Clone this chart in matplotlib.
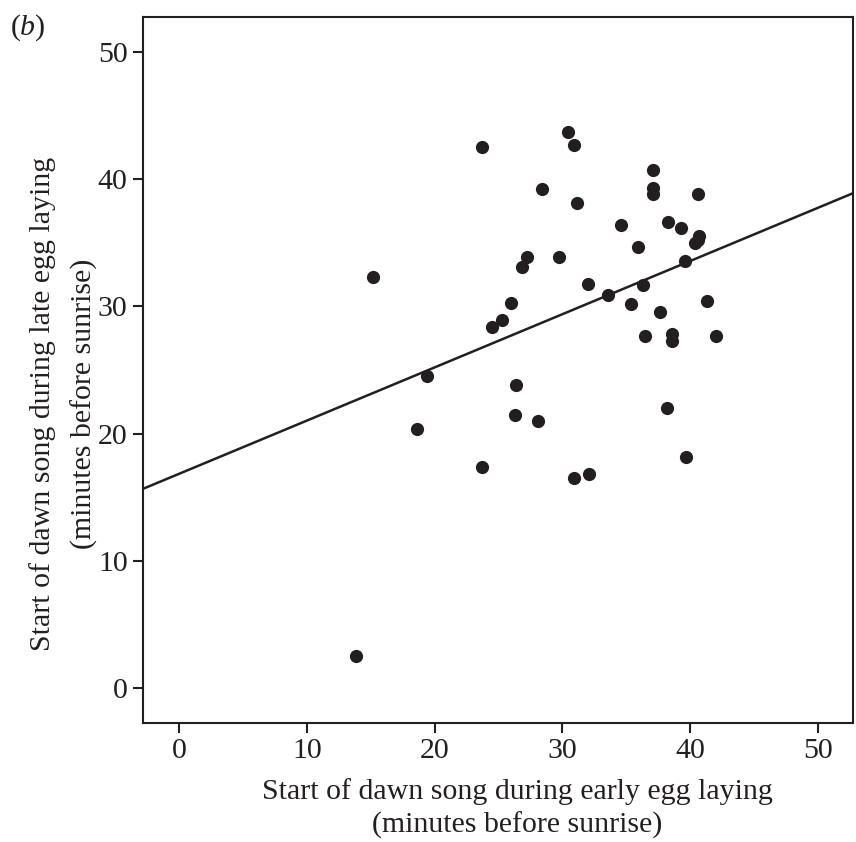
import numpy as np
import matplotlib
matplotlib.use("Agg")
import matplotlib.pyplot as plt

# Start of dawn song, minutes before sunrise
early = [13.8, 15.2, 18.6, 19.4, 23.7, 23.7, 24.5, 25.3, 26.0, 26.4,
         26.3, 26.8, 27.2, 28.1, 28.4, 29.7, 30.4, 30.9, 31.1, 30.9,
         32.1, 32.0, 33.6, 34.6, 35.4, 35.9, 36.3, 36.5, 37.1, 37.1,
         37.1, 37.6, 38.3, 38.2, 38.6, 38.6, 39.3, 39.6, 39.7, 40.4,
         40.7, 40.6, 40.6, 41.3, 42.0]
late = [2.5, 32.3, 20.4, 24.5, 42.5, 17.4, 28.4, 28.9, 30.3, 23.8,
        21.5, 33.1, 33.9, 21.0, 39.2, 33.9, 43.7, 42.7, 38.1, 16.5,
        16.8, 31.8, 30.9, 36.4, 30.2, 34.7, 31.7, 27.7, 40.7, 39.3,
        38.8, 29.6, 36.6, 22.0, 27.8, 27.3, 36.2, 33.6, 18.2, 35.0,
        35.5, 35.2, 38.8, 30.4, 27.7]

# fitted line
intercept = 16.85
slope = 0.418

ticks = [0, 10, 20, 30, 40, 50]

plt.rcParams['font.family'] = ['Liberation Serif', 'DejaVu Serif']
plt.rcParams['mathtext.fontset'] = 'custom'
plt.rcParams['mathtext.rm'] = 'Liberation Serif'
plt.rcParams['mathtext.it'] = 'Liberation Serif:italic'

ink = '#231f20'
fs = 21.5

fig = plt.figure(figsize=(8.56, 8.42), dpi=100)
ax = fig.add_axes([0.167, 0.1413, 0.8295, 0.8385])

xlo, xhi = -2.85, 52.75
ax.set_xlim(xlo, xhi)
ax.set_ylim(-2.75, 52.75)

xs = np.array([xlo, xhi])
ax.plot(xs, intercept + slope * xs, color=ink, lw=1.8, zorder=2)
ax.plot(early, late, 'o', color=ink, ms=9.5, mew=0, zorder=3)

ax.set_xticks(ticks)
ax.set_yticks(ticks)
ax.tick_params(direction='out', length=7, width=1.5, color=ink,
               labelsize=fs, labelcolor=ink, pad=4)
for s in ax.spines.values():
    s.set_linewidth(1.5)
    s.set_color(ink)

ax.set_xlabel("Start of dawn song during early egg laying\n(minutes before sunrise)",
              fontsize=fs, color=ink, labelpad=10, linespacing=1.3)
ax.set_ylabel("Start of dawn song during late egg laying\n(minutes before sunrise)",
              fontsize=fs, color=ink, labelpad=0, linespacing=1.7)
# labels sit a little off the axes centre in the original
ax.xaxis.label.set_x(0.527)
ax.yaxis.label.set_y(0.452)

fig.text(0.012, 0.985, r'($\it{b}$)', fontsize=fs, color=ink, va='top')

fig.savefig("out.png", dpi=100)
